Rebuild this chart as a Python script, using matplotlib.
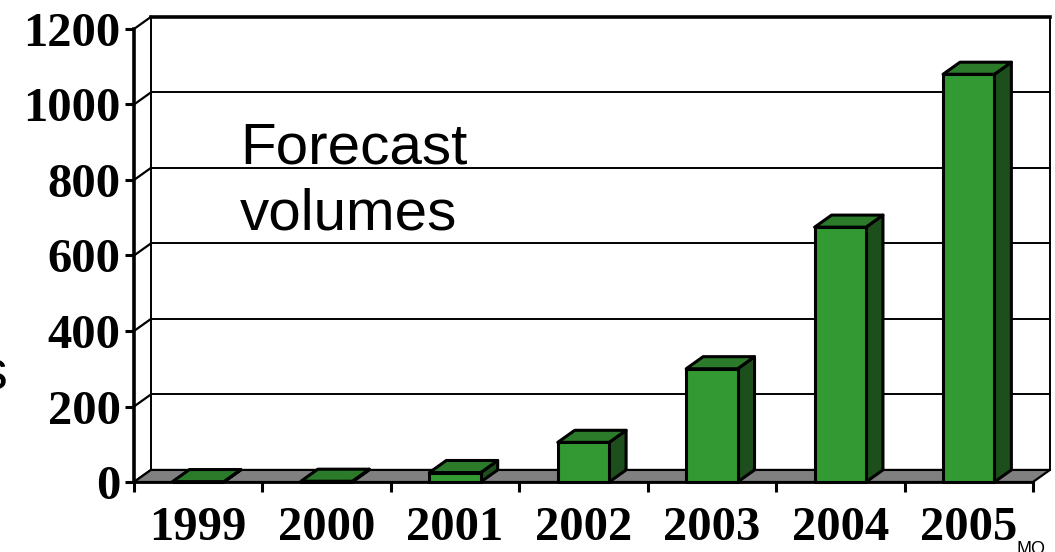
import matplotlib.pyplot as plt
from matplotlib.patches import Polygon, Rectangle

years = ['1999', '2000', '2001', '2002', '2003', '2004', '2005']
volumes = [1, 2, 25, 105, 300, 675, 1080]
y_ticks = [0, 200, 400, 600, 800, 1000, 1200]

FRONT = '#339933'
TOP = '#2b7b2b'
SIDE = '#1d4f1d'
FLOOR = '#808080'
BAR_W = 0.4
# depth of the fake 3d box, in data units
DX, DY = 0.132, 32

fig = plt.figure(figsize=(10.55, 5.52), dpi=100)
ax = fig.add_axes([0.1270, 0.1268, 0.8521, 0.8207])
n = len(years)
ax.set_xlim(0, n)
ax.set_ylim(0, y_ticks[-1])
ax.patch.set_visible(False)

# back wall and left wall gridlines
for v in y_ticks:
    ax.plot([DX, n + DX], [v + DY, v + DY], color='black',
            lw=2.6 if v == y_ticks[-1] else 1.4, clip_on=False, zorder=1)
    ax.plot([0, DX], [v, v + DY], color='black', lw=1.6, clip_on=False, zorder=1)
for xe in (DX, n + DX):
    ax.plot([xe, xe], [DY, y_ticks[-1] + DY], color='black', lw=1.4,
            clip_on=False, zorder=1)

# floor
ax.add_patch(Polygon([(0, 0), (n, 0), (n + DX, DY), (DX, DY)], closed=True,
                     fc=FLOOR, ec='black', lw=1.6, clip_on=False, zorder=2))

# columns
for i, v in enumerate(volumes):
    x0 = i + (1 - BAR_W) / 2
    x1 = x0 + BAR_W
    kw = dict(ec='black', lw=2.2, joinstyle='round', clip_on=False, zorder=3 + i)
    ax.add_patch(Polygon([(x1, 0), (x1 + DX, DY), (x1 + DX, v + DY), (x1, v)],
                         closed=True, fc=SIDE, **kw))
    ax.add_patch(Polygon([(x0, v), (x1, v), (x1 + DX, v + DY), (x0 + DX, v + DY)],
                         closed=True, fc=TOP, **kw))
    ax.add_patch(Rectangle((x0, 0), BAR_W, v, fc=FRONT, **kw))

for side in ('top', 'right'):
    ax.spines[side].set_visible(False)
ax.spines['left'].set_linewidth(2.6)
ax.spines['bottom'].set_linewidth(2.0)
for sp in ax.spines.values():
    sp.set_zorder(20)

tick_font = dict(family='Liberation Serif', weight='bold', size=35)
ax.set_yticks(y_ticks)
ax.set_yticklabels([str(t) for t in y_ticks], fontdict=tick_font)
ax.tick_params(axis='y', length=6.5, width=2.2, pad=3)

ax.set_xticks(range(n + 1))
ax.set_xticklabels([])
ax.tick_params(axis='x', which='major', length=7, width=2.2)
ax.set_xticks([i + 0.5 for i in range(n)], minor=True)
ax.set_xticklabels(years, minor=True, fontdict=tick_font)
ax.tick_params(axis='x', which='minor', length=0, pad=17)

fig.text(240 / 1055, 1 - 163 / 552, 'Forecast', family='Liberation Sans',
         fontsize=42, va='baseline', ha='left')
fig.text(240 / 1055, 1 - 229 / 552, 'volumes', family='Liberation Sans',
         fontsize=42, va='baseline', ha='left')
fig.text(7 / 1055, 1 - 390 / 552, 's', family='Liberation Sans',
         fontsize=40, va='baseline', ha='right')
fig.text(1017 / 1055, 1 - 541 / 552, 'MO', family='Liberation Sans',
         fontsize=13, va='top', ha='left')

fig.savefig('out.png', dpi=100)
